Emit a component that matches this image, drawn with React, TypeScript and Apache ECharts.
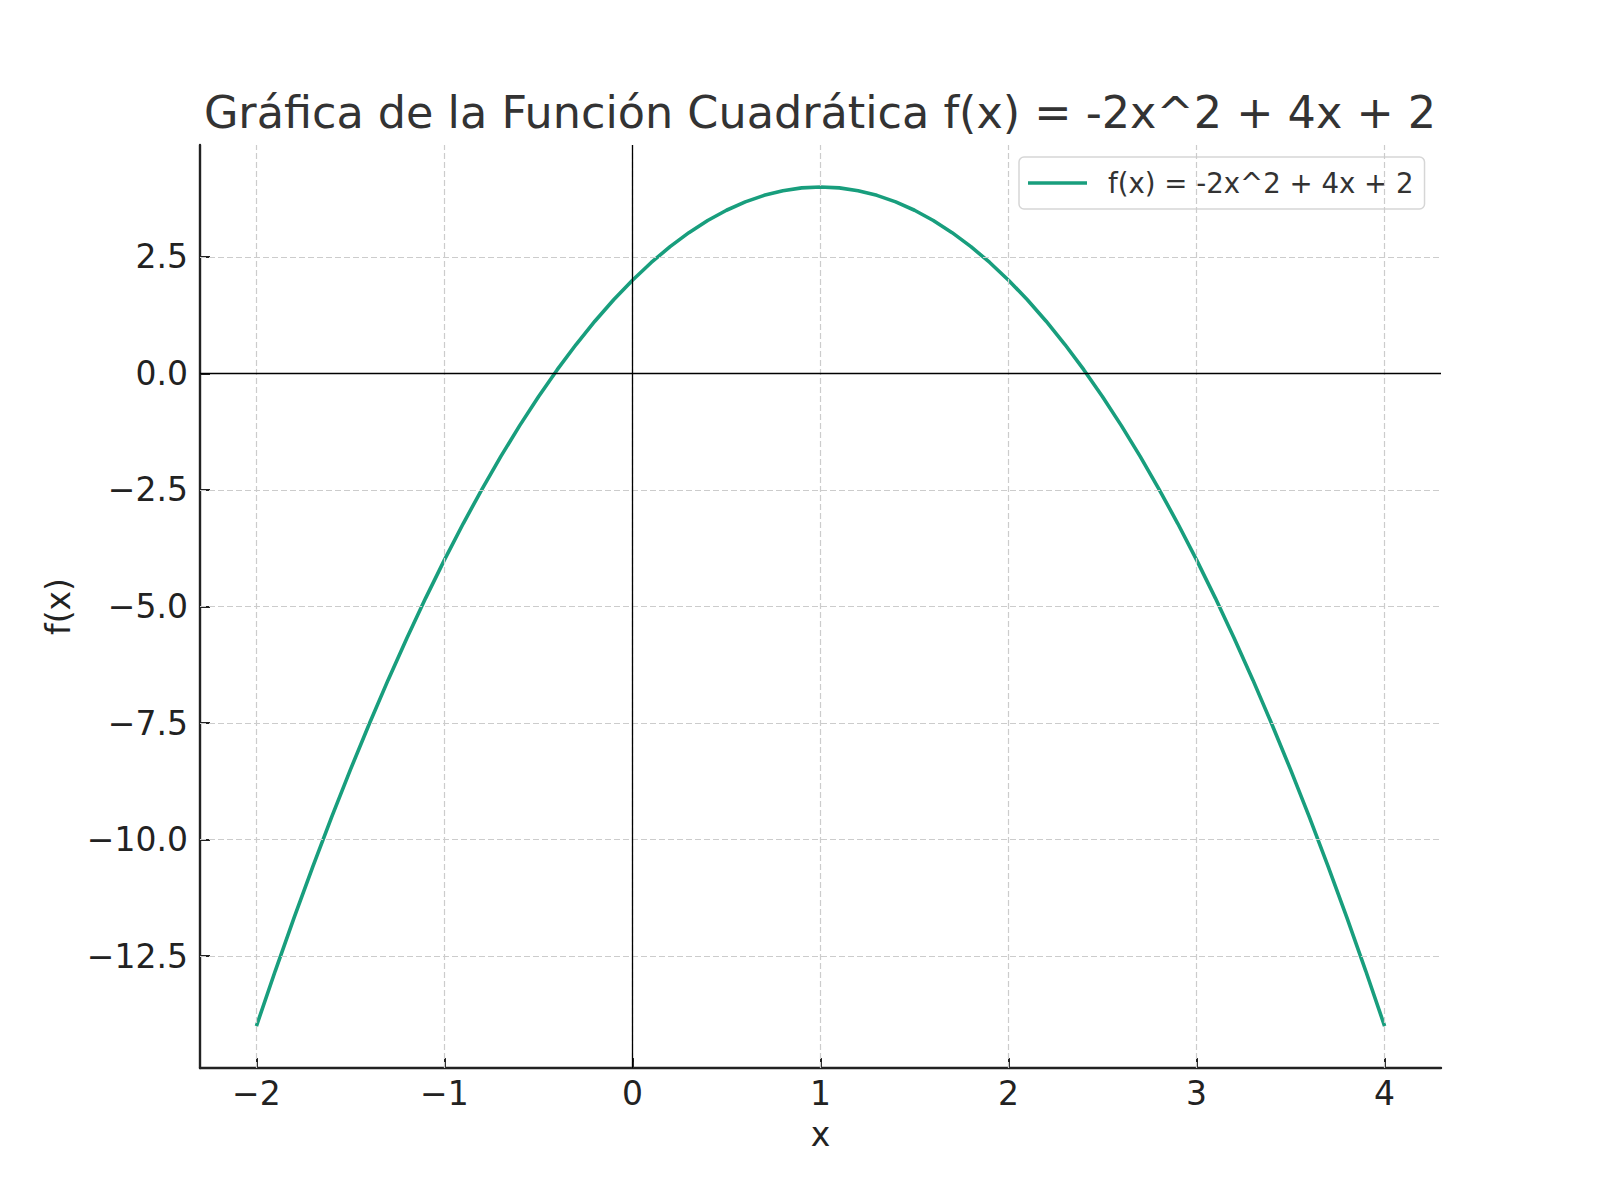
import React, { useEffect, useRef } from "react";
import * as echarts from "echarts";

// points, x step 0.1
const xValues = [
  -2, -1.9, -1.8, -1.7, -1.6, -1.5, -1.4, -1.3, -1.2, -1.1,
  -1, -0.9, -0.8, -0.7, -0.6, -0.5, -0.4, -0.3, -0.2, -0.1,
  0, 0.1, 0.2, 0.3, 0.4, 0.5, 0.6, 0.7, 0.8, 0.9,
  1, 1.1, 1.2, 1.3, 1.4, 1.5, 1.6, 1.7, 1.8, 1.9,
  2, 2.1, 2.2, 2.3, 2.4, 2.5, 2.6, 2.7, 2.8, 2.9,
  3, 3.1, 3.2, 3.3, 3.4, 3.5, 3.6, 3.7, 3.8, 3.9, 4,
];
const yValues = [
  -14, -12.82, -11.68, -10.58, -9.52, -8.5, -7.52, -6.58, -5.68, -4.82,
  -4, -3.22, -2.48, -1.78, -1.12, -0.5, 0.08, 0.62, 1.12, 1.58,
  2, 2.38, 2.72, 3.02, 3.28, 3.5, 3.68, 3.82, 3.92, 3.98,
  4, 3.98, 3.92, 3.82, 3.68, 3.5, 3.28, 3.02, 2.72, 2.38,
  2, 1.58, 1.12, 0.62, 0.08, -0.5, -1.12, -1.78, -2.48, -3.22,
  -4, -4.82, -5.68, -6.58, -7.52, -8.5, -9.52, -10.58, -11.68, -12.82, -14,
];
const xTicks = [-2, -1, 0, 1, 2, 3, 4];
const yTicks = [-12.5, -10, -7.5, -5, -2.5, 0, 2.5];

const seriesName = "f(x) = -2x^2 + 4x + 2";
const titleText = "Gráfica de la Función Cuadrática f(x) = -2x^2 + 4x + 2";

const FONT = "DejaVu Sans";
const minus = (s: string) => s.replace("-", "\u2212");

const App: React.FC = () => {
  const chartRef = useRef<HTMLDivElement>(null);

  useEffect(() => {
    document.body.style.margin = "0";
    if (!chartRef.current) return;
    const chart = echarts.init(chartRef.current, undefined, { renderer: "svg" });

    const points = xValues.map((x, i) => [x, yValues[i]]);
    const gridStyle = { color: "#cccccc", width: 1.2, type: [6, 3] as number[] };
    const zeroStyle = { color: "#000000", width: 1.3, type: "solid" as const };

    chart.setOption({
      animation: false,
      backgroundColor: "#ffffff",
      textStyle: { fontFamily: FONT },
      grid: { left: 200, right: 159, top: 145, bottom: 132, outerBoundsMode: "none" },
      graphic: [
        {
          type: "text",
          x: 820,
          y: 112,
          style: {
            text: titleText,
            fontFamily: FONT,
            fontSize: 44.5,
            fill: "#333333",
            textAlign: "center",
            textVerticalAlign: "middle",
          },
        },
      ],
      legend: {
        data: [seriesName],
        left: 1019,
        top: 157,
        orient: "vertical",
        padding: [11, 11, 11, 9],
        icon: "rect",
        itemWidth: 59,
        itemHeight: 3.5,
        backgroundColor: "rgba(255,255,255,0.8)",
        borderColor: "#d6d6d6",
        borderWidth: 1.5,
        borderRadius: 5,
        textStyle: {
          fontFamily: FONT,
          fontSize: 27.6,
          color: "#333333",
          lineHeight: 30,
          padding: [0, 0, 0, 16],
        },
      },
      xAxis: {
        type: "value",
        min: -2.3,
        max: 4.3,
        name: "x",
        nameLocation: "middle",
        nameGap: 50,
        nameTextStyle: { fontFamily: FONT, fontSize: 33, color: "#222222" },
        axisLine: { show: true, onZero: false, lineStyle: { color: "#222222", width: 2.4 } },
        axisTick: {
          show: true,
          inside: true,
          length: 10,
          customValues: xTicks,
          lineStyle: { color: "#222222", width: 2 },
        },
        axisLabel: {
          customValues: xTicks,
          formatter: (v: number) => minus(String(v)),
          fontFamily: FONT,
          fontSize: 33,
          color: "#222222",
          margin: 9,
        },
        splitLine: { show: false },
      },
      yAxis: {
        type: "value",
        min: -14.9,
        max: 4.9,
        name: "f(x)",
        nameLocation: "middle",
        nameGap: 125,
        nameTextStyle: { fontFamily: FONT, fontSize: 33, color: "#222222" },
        axisLine: { show: true, onZero: false, lineStyle: { color: "#222222", width: 2.4 } },
        axisTick: {
          show: true,
          inside: true,
          length: 10,
          customValues: yTicks,
          lineStyle: { color: "#222222", width: 2 },
        },
        axisLabel: {
          customValues: yTicks,
          formatter: (v: number) => minus(v.toFixed(1)),
          fontFamily: FONT,
          fontSize: 33,
          color: "#222222",
          margin: 12,
        },
        splitLine: { show: false },
      },
      series: [
        {
          name: "grid",
          type: "line",
          z: 1,
          data: points,
          showSymbol: false,
          symbol: "none",
          lineStyle: { opacity: 0 },
          silent: true,
          markLine: {
            silent: true,
            symbol: ["none", "none"],
            label: { show: false },
            data: [
              ...xTicks.map((v) => ({ xAxis: v, lineStyle: gridStyle })),
              ...yTicks.map((v) => ({ yAxis: v, lineStyle: gridStyle })),
            ],
          },
        },
        {
          name: "zero",
          type: "line",
          z: 2,
          data: points,
          showSymbol: false,
          symbol: "none",
          lineStyle: { opacity: 0 },
          silent: true,
          markLine: {
            silent: true,
            symbol: ["none", "none"],
            label: { show: false },
            data: [
              { xAxis: 0, lineStyle: zeroStyle },
              { yAxis: 0, lineStyle: zeroStyle },
            ],
          },
        },
        {
          name: seriesName,
          type: "line",
          z: 3,
          data: points,
          showSymbol: false,
          symbol: "none",
          itemStyle: { color: "#189e7d" },
          lineStyle: { color: "#189e7d", width: 3.6 },
        },
      ],
    });

    return () => chart.dispose();
  }, []);

  return <div ref={chartRef} style={{ width: "1600px", height: "1200px" }} />;
};

export default App;
